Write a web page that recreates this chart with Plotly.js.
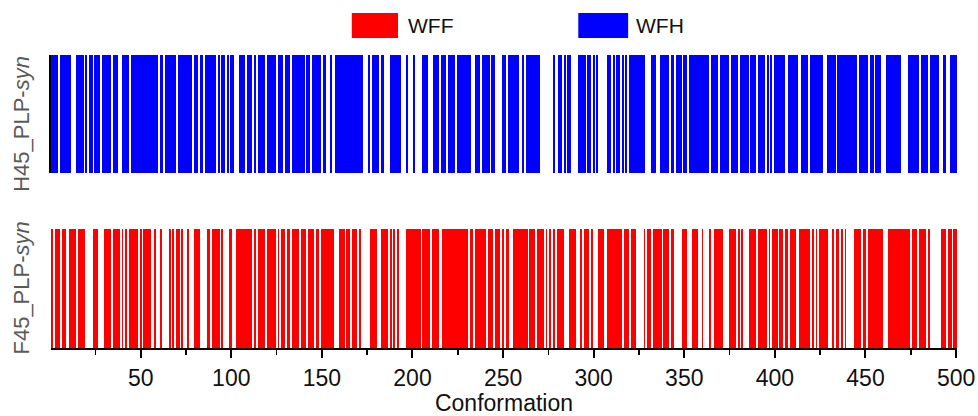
<!DOCTYPE html>
<html>
<head>
<meta charset="utf-8">
<script src="https://cdn.plot.ly/plotly-3.0.1.min.js"></script>
<style>html,body{margin:0;padding:0;background:#fff;}#chart{width:978px;height:416px;}</style>
</head>
<body>
<div id="chart"></div>
<script>
// Conformation runs [first, last] where each state is observed
const wfhRuns = [[1,4],[6,11],[15,18],[20,20],[22,23],[25,27],[29,33],[35,37],[40,43],[45,59],[61,62],[64,69],[71,78],[80,81],[83,84],[86,91],[93,93],[95,96],[98,98],[100,101],[105,107],[109,111],[113,113],[115,118],[120,124],[126,128],[130,132],[134,140],[142,143],[145,149],[151,152],[155,155],[158,172],[176,176],[178,181],[183,184],[188,193],[197,197],[201,201],[206,208],[212,214],[216,218],[220,223],[225,232],[235,237],[239,242],[244,245],[250,251],[253,258],[261,261],[263,270],[278,278],[281,282],[284,284],[286,287],[292,295],[297,298],[300,300],[302,302],[308,309],[311,311],[313,314],[316,316],[318,318],[320,328],[332,334],[337,341],[343,344],[346,348],[350,351],[353,363],[365,368],[370,374],[376,379],[381,385],[387,389],[391,394],[396,396],[398,398],[400,405],[408,412],[415,418],[420,426],[429,433],[435,445],[447,451],[453,454],[456,458],[462,469],[474,479],[481,484],[486,490],[493,494],[497,500]];
const wffRuns = [[1,1],[3,5],[7,8],[11,14],[16,19],[24,26],[30,33],[35,38],[40,40],[42,42],[44,48],[50,50],[52,55],[58,58],[61,61],[66,66],[68,68],[70,71],[73,73],[76,76],[80,82],[87,88],[90,93],[95,95],[99,100],[103,111],[113,113],[115,118],[120,124],[126,126],[128,129],[131,132],[134,137],[139,141],[143,145],[147,148],[150,156],[160,162],[164,165],[167,169],[171,171],[177,180],[183,186],[188,188],[190,190],[192,192],[197,204],[206,209],[211,214],[217,230],[232,233],[235,240],[242,244],[246,248],[250,250],[252,253],[256,263],[265,267],[269,272],[274,274],[276,276],[278,278],[280,283],[287,290],[293,293],[295,297],[299,299],[303,305],[308,315],[317,319],[321,323],[328,328],[330,331],[333,337],[339,341],[343,344],[349,351],[355,357],[360,360],[364,364],[367,371],[375,378],[380,380],[382,382],[386,389],[391,395],[397,397],[399,401],[403,404],[406,407],[409,411],[414,419],[421,421],[423,423],[425,429],[432,432],[434,435],[437,437],[439,439],[444,447],[449,450],[452,459],[463,474],[476,478],[480,483],[485,485],[492,494],[496,497],[499,500]];
const seriesNames = ['WFF', 'WFH'];
const rowLabels = ['F45_PLP-<i>syn</i>', 'H45_PLP-<i>syn</i>'];
const xTickValues = [50,100,150,200,250,300,350,400,450,500];

function expand(runs){
  const xs = [];
  runs.forEach(function(r){ for (let c = r[0]; c <= r[1]; c++) xs.push(c); });
  return xs;
}
const wffX = expand(wffRuns);
const wfhX = expand(wfhRuns);

const traces = [
  {type:'bar', name:seriesNames[0], x:wffX, y:wffX.map(function(){return 1;}), width:1,
   marker:{color:'#FF0000', line:{width:0}}, xaxis:'x', yaxis:'y', showlegend:false, hoverinfo:'x'},
  {type:'bar', name:seriesNames[1], x:wfhX, y:wfhX.map(function(){return 1;}), width:1,
   marker:{color:'#0000FF', line:{width:0}}, xaxis:'x2', yaxis:'y2', showlegend:false, hoverinfo:'x'}
];

const FONT = 'Arial, "Liberation Sans", sans-serif';
const layout = {
  width:978, height:416,
  margin:{l:51, r:21, t:55, b:68},
  paper_bgcolor:'#fff', plot_bgcolor:'#fff',
  bargap:0,
  font:{family:FONT, color:'#111'},
  xaxis:{domain:[0,1], range:[0.5,500.5], anchor:'y', showline:true, linecolor:'#000', linewidth:2,
    ticks:'outside', ticklen:8, tickwidth:2, tickcolor:'#000', tickvals:xTickValues,
    minor:{dtick:25, tick0:0, ticks:'outside', ticklen:5, tickwidth:1.5, tickcolor:'#000'},
    tickfont:{size:23, color:'#111', family:FONT}, showgrid:false, zeroline:false,
    title:{text:'Conformation', font:{size:23, color:'#111', family:FONT}, standoff:5}},
  xaxis2:{matches:'x', anchor:'y2', visible:false, range:[0.5,500.5]},
  yaxis:{domain:[0,0.406], range:[0,1], showline:false, showticklabels:false, ticks:'', showgrid:false, zeroline:false},
  yaxis2:{domain:[0.597,1], range:[0,1], anchor:'x2', showline:true, linecolor:'#000', linewidth:2,
    showticklabels:false, ticks:'', showgrid:false, zeroline:false},
  shapes:[
    {type:'rect', xref:'paper', yref:'paper', x0:0.332, x1:0.383, y0:1.058, y1:1.143, fillcolor:'#FF0000', line:{width:0}},
    {type:'rect', xref:'paper', yref:'paper', x0:0.582, x1:0.637, y0:1.058, y1:1.143, fillcolor:'#0000FF', line:{width:0}}
  ],
  annotations:[
    {text:seriesNames[0], xref:'paper', yref:'paper', x:0.392, y:1.1, xanchor:'left', yanchor:'middle', showarrow:false, font:{size:21, color:'#111', family:FONT}},
    {text:seriesNames[1], xref:'paper', yref:'paper', x:0.644, y:1.1, xanchor:'left', yanchor:'middle', showarrow:false, font:{size:21, color:'#111', family:FONT}},
    {text:rowLabels[1], xref:'paper', yref:'paper', x:-0.032, y:0.765, xanchor:'center', yanchor:'middle', textangle:-90, showarrow:false, font:{size:22, color:'#595959', family:FONT}},
    {text:rowLabels[0], xref:'paper', yref:'paper', x:-0.032, y:0.203, xanchor:'center', yanchor:'middle', textangle:-90, showarrow:false, font:{size:22, color:'#595959', family:FONT}}
  ]
};

Plotly.newPlot('chart', traces, layout, {displayModeBar:false, staticPlot:true});
</script>
</body>
</html>
